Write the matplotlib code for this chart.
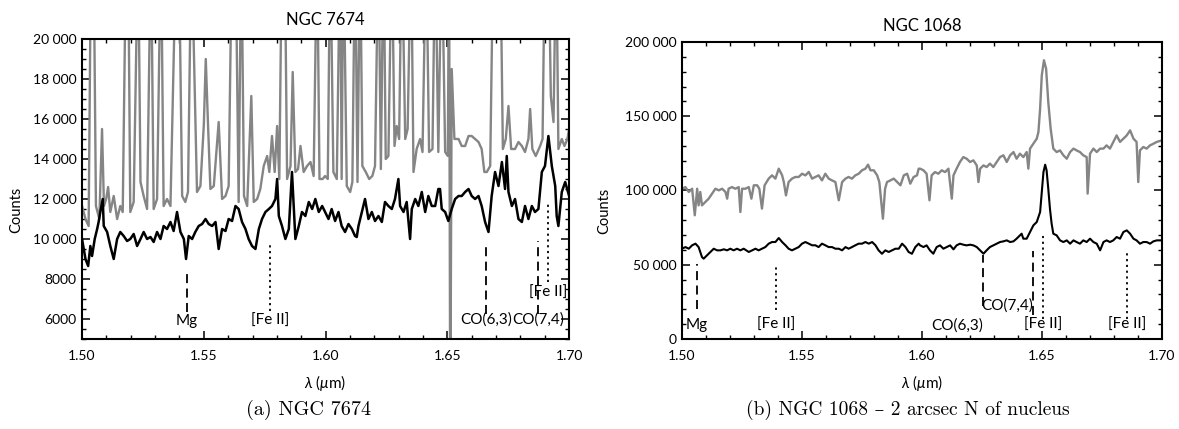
import numpy as np
import matplotlib
matplotlib.use('Agg')
from matplotlib import pyplot as plt
from matplotlib.ticker import MultipleLocator, FuncFormatter

plt.rcParams['font.family'] = ['Lato', 'DejaVu Sans']
plt.rcParams['mathtext.fontset'] = 'custom'
plt.rcParams['mathtext.rm'] = 'Lato'
plt.rcParams['mathtext.it'] = 'Lato:italic'

# ---- NGC 7674 : black = object spectrum, grey = sky / raw ----
lam_7674_obj = [
    1.5000, 1.5014, 1.5025, 1.5034, 1.5041, 1.5052, 1.5062, 1.5068, 1.5075, 1.5085,
    1.5089, 1.5103, 1.5116, 1.5130, 1.5144, 1.5157, 1.5171, 1.5185, 1.5198, 1.5212,
    1.5226, 1.5240, 1.5253, 1.5267, 1.5281, 1.5294, 1.5308, 1.5322, 1.5335, 1.5349,
    1.5363, 1.5376, 1.5390, 1.5404, 1.5418, 1.5427, 1.5438, 1.5452, 1.5465, 1.5479,
    1.5493, 1.5507, 1.5520, 1.5534, 1.5548, 1.5561, 1.5575, 1.5589, 1.5602, 1.5616,
    1.5630, 1.5643, 1.5657, 1.5671, 1.5684, 1.5698, 1.5712, 1.5726, 1.5739, 1.5753,
    1.5767, 1.5780, 1.5794, 1.5801, 1.5808, 1.5821, 1.5835, 1.5849, 1.5862, 1.5876,
    1.5890, 1.5903, 1.5917, 1.5931, 1.5945, 1.5958, 1.5972, 1.5986,
    1.5998, 1.6012, 1.6025, 1.6039, 1.6053, 1.6066, 1.6080, 1.6094, 1.6108, 1.6121,
    1.6128, 1.6135, 1.6149, 1.6155, 1.6162, 1.6176, 1.6190, 1.6203, 1.6217, 1.6231,
    1.6244, 1.6258, 1.6272, 1.6285, 1.6299, 1.6306, 1.6320, 1.6333, 1.6347, 1.6354,
    1.6368, 1.6381, 1.6395, 1.6409, 1.6422, 1.6436, 1.6450, 1.6463, 1.6470, 1.6477,
    1.6491, 1.6504, 1.6518, 1.6532, 1.6546, 1.6559, 1.6573, 1.6587, 1.6600, 1.6614,
    1.6628, 1.6641, 1.6655, 1.6669, 1.6682, 1.6696, 1.6710, 1.6724, 1.6737, 1.6744,
    1.6751, 1.6765, 1.6778, 1.6792, 1.6806, 1.6819, 1.6833, 1.6847, 1.6860, 1.6874,
    1.6888, 1.6901, 1.6915, 1.6929, 1.6943, 1.6949, 1.6956, 1.6970, 1.6984, 1.7000]
cnt_7674_obj = [
    10000, 9000, 8650, 9650, 9150, 10000, 10500, 10850, 11350, 12000,
    10650, 10350, 9650, 9000, 10000, 10350, 10150, 9900, 10000, 10250,
    9650, 10000, 10350, 10000, 10100, 9850, 10350, 10000, 10650, 10500,
    10850, 10400, 11350, 10350, 10000, 9000, 10150, 10000, 10350, 10650,
    10750, 11000, 10750, 10650, 10850, 9500, 10500, 10400, 11000, 10900,
    11650, 11500, 10850, 10500, 10000, 9650, 9500, 10500, 11000, 11350,
    11500, 11650, 12000, 13000, 11150, 10650, 10000, 10500, 13350, 10000,
    10650, 11350, 11150, 11850, 11500, 12000, 11350, 11650,
    11350, 11000, 11500, 10900, 11350, 10650, 10350, 10750, 10500, 10150,
    10100, 10650, 11350, 11650, 12000, 11000, 11350, 10900, 11150, 10850,
    11850, 11650, 11500, 12000, 13000, 11650, 11350, 11850, 10000, 11500,
    12000, 11650, 12350, 11350, 12150, 11650, 11650, 12500, 12500, 11500,
    11350, 10900, 11500, 12000, 12150, 12150, 12350, 12500, 12150, 12000,
    12150, 11650, 10850, 10350, 12150, 13350, 12650, 13850, 12500, 14150,
    12350, 11650, 12000, 11000, 10850, 11650, 11000, 11650, 11350, 11500,
    13350, 13650, 15150, 13650, 12650, 11150, 10650, 12350, 12850, 12150]

lam_7674_sky = [
    1.5000, 1.5014, 1.5027, 1.5037, 1.5047, 1.5057, 1.5071, 1.5082, 1.5090, 1.5099,
    1.5107, 1.5116, 1.5130, 1.5144, 1.5157, 1.5167, 1.5181, 1.5189, 1.5198, 1.5212,
    1.5230, 1.5240, 1.5253, 1.5267, 1.5283, 1.5294, 1.5308, 1.5324, 1.5335, 1.5349,
    1.5363, 1.5387, 1.5397, 1.5411, 1.5424, 1.5435, 1.5449, 1.5472, 1.5486, 1.5500,
    1.5508, 1.5517, 1.5527, 1.5541, 1.5561, 1.5575, 1.5589, 1.5602, 1.5616, 1.5630,
    1.5643, 1.5654, 1.5665, 1.5678, 1.5695, 1.5705, 1.5719, 1.5732, 1.5746, 1.5760,
    1.5769, 1.5780, 1.5791, 1.5801, 1.5810, 1.5821, 1.5832, 1.5842, 1.5856, 1.5865,
    1.5876, 1.5887, 1.5897, 1.5910, 1.5924, 1.5938, 1.5951, 1.5965, 1.5975, 1.5988,
    1.5998, 1.6009, 1.6019, 1.6032, 1.6046, 1.6060, 1.6066, 1.6073, 1.6087, 1.6101,
    1.6110, 1.6121, 1.6131, 1.6142, 1.6151, 1.6165, 1.6179, 1.6192, 1.6203, 1.6217,
    1.6227, 1.6238, 1.6247, 1.6258, 1.6272, 1.6283, 1.6292, 1.6302, 1.6313, 1.6327,
    1.6337, 1.6351, 1.6361, 1.6374, 1.6388, 1.6398, 1.6413, 1.6425, 1.6439, 1.6450,
    1.6463, 1.6477, 1.6491, 1.6502, 1.6507, 1.6512, 1.6518, 1.6529, 1.6546, 1.6559,
    1.6573, 1.6587, 1.6600, 1.6614, 1.6628, 1.6641, 1.6652, 1.6662, 1.6676, 1.6689,
    1.6703, 1.6717, 1.6728, 1.6740, 1.6751, 1.6762, 1.6778, 1.6792, 1.6806, 1.6819,
    1.6833, 1.6840, 1.6849, 1.6863, 1.6881, 1.6891, 1.6901, 1.6915, 1.6925, 1.6936,
    1.6947, 1.6956, 1.6970, 1.6981, 1.6993, 1.7000]
cnt_7674_sky = [
    11650, 11000, 10650, 25000, 25000, 11650, 11000, 15500, 11650, 12000,
    12600, 11350, 12150, 11000, 11650, 11350, 25000, 25000, 11350, 11850,
    25000, 12850, 12150, 11500, 25000, 11500, 12000, 25000, 11650, 12000,
    11650, 25000, 25000, 12150, 11850, 12350, 25000, 12350, 12650, 15700,
    19000, 15800, 12500, 12650, 15850, 12000, 12150, 12650, 25000, 25000,
    11850, 25000, 12150, 11650, 17150, 11850, 12000, 12500, 13650, 14150,
    13350, 15150, 13350, 15650, 13000, 25000, 25000, 13000, 13650, 18350,
    13350, 13500, 14650, 13350, 13650, 13850, 13150, 25000, 13000, 13000,
    13150, 13000, 25000, 13350, 13000, 25000, 13000, 25000, 12650, 12350,
    12850, 25000, 12850, 25000, 13650, 13350, 13000, 13150, 13650, 25000,
    13500, 25000, 14000, 14150, 25000, 14650, 15650, 15000, 25000, 15000,
    15500, 25000, 13350, 14500, 15000, 14350, 25000, 14350, 14500, 25000,
    14350, 25000, 14350, 14150, 25000, 0, 18500, 15000, 15000, 14650,
    14650, 15150, 15150, 15000, 14850, 14500, 13350, 13350, 13650, 25000,
    25000, 25000, 14500, 15000, 16650, 14500, 14500, 14850, 14650, 14350,
    15000, 16500, 14500, 14150, 14650, 15000, 25000, 25000, 17150, 15850,
    25000, 14500, 15000, 14650, 15000, 15500]

# ---- NGC 1068 ----
lam_1068_obj = [
    1.5000, 1.5014, 1.5028, 1.5042, 1.5056, 1.5069, 1.5083, 1.5090, 1.5104, 1.5118,
    1.5132, 1.5146, 1.5160, 1.5174, 1.5188, 1.5201, 1.5215, 1.5229, 1.5243, 1.5257,
    1.5278, 1.5292, 1.5306, 1.5319, 1.5333, 1.5347, 1.5361, 1.5375, 1.5389, 1.5403,
    1.5417, 1.5431, 1.5444, 1.5458, 1.5472, 1.5486, 1.5500, 1.5514, 1.5528, 1.5542,
    1.5556, 1.5569, 1.5583, 1.5597, 1.5611, 1.5625, 1.5639, 1.5653, 1.5667, 1.5681,
    1.5694, 1.5708, 1.5722, 1.5736, 1.5750, 1.5764, 1.5778, 1.5792, 1.5806, 1.5819,
    1.5833, 1.5847, 1.5861, 1.5875, 1.5889, 1.5903, 1.5917, 1.5931, 1.5944, 1.5958,
    1.5972, 1.5986,
    1.5992, 1.6006, 1.6019, 1.6033, 1.6047, 1.6061, 1.6075, 1.6089, 1.6103, 1.6117,
    1.6131, 1.6144, 1.6158, 1.6172, 1.6186, 1.6200, 1.6214, 1.6228, 1.6242, 1.6256,
    1.6269, 1.6283, 1.6297, 1.6311, 1.6325, 1.6339, 1.6353, 1.6367, 1.6381, 1.6394,
    1.6408, 1.6415, 1.6422, 1.6436, 1.6450, 1.6464, 1.6478, 1.6492, 1.6499, 1.6506,
    1.6513, 1.6519, 1.6526, 1.6533, 1.6540, 1.6547, 1.6561, 1.6575, 1.6589, 1.6603,
    1.6617, 1.6631, 1.6644, 1.6658, 1.6672, 1.6686, 1.6700, 1.6714, 1.6728, 1.6742,
    1.6756, 1.6769, 1.6783, 1.6797, 1.6811, 1.6825, 1.6832, 1.6839, 1.6853, 1.6867,
    1.6881, 1.6894, 1.6908, 1.6922, 1.6936, 1.6950, 1.6964, 1.6978, 1.7000]
cnt_1068_obj = [
    60800, 61900, 60800, 63100, 64200, 61900, 55200, 54100, 56300, 58600,
    60800, 59700, 59700, 60400, 59700, 60800, 59700, 60800, 59700, 60800,
    58600, 59700, 60800, 59700, 60800, 61900, 64200, 65300, 65300, 68000,
    65300, 63100, 60800, 59700, 60800, 61900, 64200, 65300, 64200, 63100,
    63100, 61900, 64200, 63100, 61900, 61900, 60800, 60800, 59700, 61900,
    60800, 61900, 63100, 64200, 64200, 65300, 64200, 65300, 63100, 59700,
    57400, 59700, 58600, 59700, 60800, 60800, 64200, 61900, 58600, 57400,
    61900, 64200,
    63050, 61930, 63050, 59690, 57440, 61930, 63050, 60810, 61930, 63050,
    60360, 63050, 64180, 63500, 63050, 63500, 63050, 61930, 59690, 57440,
    59690, 61930, 63050, 64180, 65300, 65750, 66420, 65300, 65750, 67550,
    69790, 70910, 67550, 67550, 72040, 76530, 78770, 85500, 98980, 112450,
    117380, 113570, 101220, 87750, 77650, 70910, 69790, 66420, 65300, 66420,
    64180, 66420, 65300, 64180, 66420, 65300, 67550, 65300, 64180, 59690,
    65300, 66420, 65300, 66420, 68670, 67550, 69790, 72040, 73160, 70910,
    67550, 66420, 64180, 65300, 65300, 64180, 65750, 66420, 66420]

lam_1068_sky = [
    1.5000, 1.5014, 1.5028, 1.5042, 1.5053, 1.5063, 1.5069, 1.5076, 1.5083, 1.5097,
    1.5111, 1.5125, 1.5139, 1.5153, 1.5167, 1.5181, 1.5188, 1.5194, 1.5208, 1.5222,
    1.5236, 1.5243, 1.5250, 1.5264, 1.5278, 1.5289, 1.5299, 1.5313, 1.5322, 1.5333,
    1.5344, 1.5361, 1.5375, 1.5389, 1.5403, 1.5417, 1.5424, 1.5433, 1.5444, 1.5458,
    1.5472, 1.5486, 1.5500, 1.5514, 1.5528, 1.5542, 1.5556, 1.5569, 1.5583, 1.5597,
    1.5611, 1.5625, 1.5639, 1.5653, 1.5667, 1.5681, 1.5694, 1.5708, 1.5722, 1.5736,
    1.5750, 1.5764, 1.5775, 1.5785, 1.5799, 1.5813, 1.5822, 1.5837, 1.5846, 1.5854,
    1.5868, 1.5882, 1.5896, 1.5910, 1.5924, 1.5938, 1.5951, 1.5965, 1.5979, 1.5986,
    1.5992, 1.6006, 1.6019, 1.6031, 1.6040, 1.6054, 1.6068, 1.6082, 1.6096, 1.6110,
    1.6124, 1.6131, 1.6144, 1.6158, 1.6172, 1.6186, 1.6200, 1.6214, 1.6228, 1.6235,
    1.6242, 1.6256, 1.6269, 1.6283, 1.6297, 1.6311, 1.6325, 1.6339, 1.6353, 1.6367,
    1.6381, 1.6394, 1.6408, 1.6422, 1.6436, 1.6443, 1.6450, 1.6464, 1.6478, 1.6485,
    1.6492, 1.6499, 1.6508, 1.6517, 1.6526, 1.6536, 1.6547, 1.6561, 1.6575, 1.6589,
    1.6603, 1.6617, 1.6631, 1.6644, 1.6658, 1.6672, 1.6686, 1.6690, 1.6700, 1.6714,
    1.6728, 1.6742, 1.6756, 1.6769, 1.6783, 1.6797, 1.6811, 1.6825, 1.6839, 1.6853,
    1.6867, 1.6881, 1.6894, 1.6901, 1.6908, 1.6922, 1.6936, 1.6950, 1.6964, 1.6978,
    1.7000]
cnt_1068_sky = [
    101200, 102300, 99000, 101200, 83300, 101200, 90000, 99000, 90000, 92200,
    94500, 97900, 101200, 100100, 101200, 99000, 94500, 101200, 102300, 101200,
    102300, 85500, 101200, 101200, 102300, 94500, 103500, 103500, 101200, 87800,
    103500, 108000, 110200, 108000, 114700, 110200, 105700, 96700, 105700, 108000,
    109100, 109100, 111300, 110200, 112500, 108000, 109100, 110200, 106800, 111300,
    108000, 106800, 105700, 93400, 105700, 108000, 109100, 108000, 110200, 111300,
    113600, 114700, 117400, 113600, 113600, 110200, 105700, 81000, 101200, 105700,
    106800, 108000, 105700, 103500, 110200, 111300, 104600, 109100, 110200, 114700,
    114700, 113600, 111300, 93400, 110200, 112400, 111300, 113600, 112400, 114700,
    94500, 110200, 114700, 119200, 122500, 121400, 119200, 120300, 116900, 105700,
    114700, 116900, 115800, 118100, 115800, 119200, 122500, 123700, 119200, 123700,
    125900, 121400, 124800, 122500, 125900, 114700, 128200, 131500, 134900, 139400,
    155100, 177600, 187700, 182000, 159600, 141600, 128200, 125900, 127000, 123700,
    121400, 125900, 128200, 127000, 125900, 123700, 122500, 97900, 124800, 128200,
    125900, 128200, 128200, 130400, 128200, 132700, 137100, 132700, 134900, 137100,
    140500, 134900, 132700, 105700, 127000, 129300, 128200, 130400, 131500, 132700,
    133800]

# spectral features: (name, wavelength, line bottom, line top, label y, style, alignment)
lines_7674 = [
    ('Mg', 1.5431, 6330, 8500, 5900, 'dashed', 'center'),
    ('[Fe II]', 1.5771, 6420, 9830, 5900, 'dotted', 'center'),
    ('CO(6,3)', 1.6658, 6250, 9750, 5950, 'dashed', 'center'),
    ('CO(7,4)', 1.6871, 6250, 9900, 5950, 'dashed', 'center'),
    ('[Fe II]', 1.6912, 7830, 11830, 7330, 'dotted', 'center'),
]
lines_1068 = [
    ('Mg', 1.5063, 20400, 50700, 9200, 'dashed', 'center'),
    ('[Fe II]', 1.5392, 19300, 48500, 9200, 'dotted', 'center'),
    ('CO(6,3)', 1.6253, 22000, 56300, 9200, 'dashed', 'right'),
    ('CO(7,4)', 1.6464, 16000, 59000, 22650, 'dashed', 'right'),
    ('[Fe II]', 1.6506, 13700, 69800, 9200, 'dotted', 'center'),
    ('[Fe II]', 1.6856, 13700, 59700, 9200, 'dotted', 'center'),
]


def counts_fmt(v, pos):
    v = int(round(v))
    if v >= 10000:
        return '{:,}'.format(v).replace(',', ' ')
    return str(v)


def style_axes(ax, ymajor, yminor):
    ax.set_xlim(1.5, 1.7)
    ax.xaxis.set_major_locator(MultipleLocator(0.05))
    ax.xaxis.set_minor_locator(MultipleLocator(0.01))
    ax.xaxis.set_major_formatter(FuncFormatter(lambda v, p: '%.2f' % v))
    ax.yaxis.set_major_locator(MultipleLocator(ymajor))
    ax.yaxis.set_minor_locator(MultipleLocator(yminor))
    ax.yaxis.set_major_formatter(FuncFormatter(counts_fmt))
    ax.tick_params(which='both', direction='in', top=True, right=True,
                   labelsize=10, color='black')
    ax.tick_params(which='major', length=6, width=1.1, pad=4)
    ax.tick_params(which='minor', length=3, width=1.0)
    ax.tick_params(axis='x', pad=8)
    for s in ax.spines.values():
        s.set_linewidth(1.5)
    ax.set_xlabel(r'$\lambda$ ($\mu$m)', fontsize=11, labelpad=8)


def mark_lines(ax, lines):
    for name, lam, y0, y1, ylab, ls, ha in lines:
        if ls == 'dashed':
            ax.plot([lam, lam], [y0, y1], color='black', lw=1.3, ls=(0, (5, 3)))
        else:
            ax.plot([lam, lam], [y0, y1], color='black', lw=1.3, ls=(0, (1.2, 2)))
        ax.text(lam, ylab, name, ha=ha, va='center', fontsize=11)


fig = plt.figure(figsize=(11.79, 4.29), dpi=100)

ax1 = fig.add_axes([0.0696, 0.2098, 0.4131, 0.6993])
ax1.plot(lam_7674_sky, cnt_7674_sky, color='#858585', lw=1.7)
ax1.plot(lam_7674_obj, cnt_7674_obj, color='black', lw=1.8)
mark_lines(ax1, lines_7674)
ax1.set_ylim(5000, 20000)
style_axes(ax1, 2000, 500)
ax1.set_title('NGC 7674', fontsize=12, pad=10)
ax1.set_ylabel('Counts', fontsize=10.5)
ax1.yaxis.set_label_coords(-0.12, 0.43)

ax2 = fig.add_axes([0.5785, 0.2098, 0.4071, 0.6923])
ax2.plot(lam_1068_sky, cnt_1068_sky, color='#858585', lw=1.7)
ax2.plot(lam_1068_obj, cnt_1068_obj, color='black', lw=1.5)
mark_lines(ax2, lines_1068)
ax2.set_ylim(0, 200000)
style_axes(ax2, 50000, 10000)
ax2.set_title('NGC 1068', fontsize=12, pad=8)
ax2.set_ylabel('Counts', fontsize=10.5)
ax2.yaxis.set_label_coords(-0.148, 0.43)

cap_font = ['cmr10', 'DejaVu Serif']
fig.text(0.262, 0.044, '(a) NGC 7674', ha='center', va='center',
         fontsize=14.5, family=cap_font)
fig.text(0.770, 0.044, '(b) NGC 1068 \u2013 2 arcsec N of nucleus', ha='center',
         va='center', fontsize=14, family=cap_font)

fig.savefig('out.png', dpi=100)
